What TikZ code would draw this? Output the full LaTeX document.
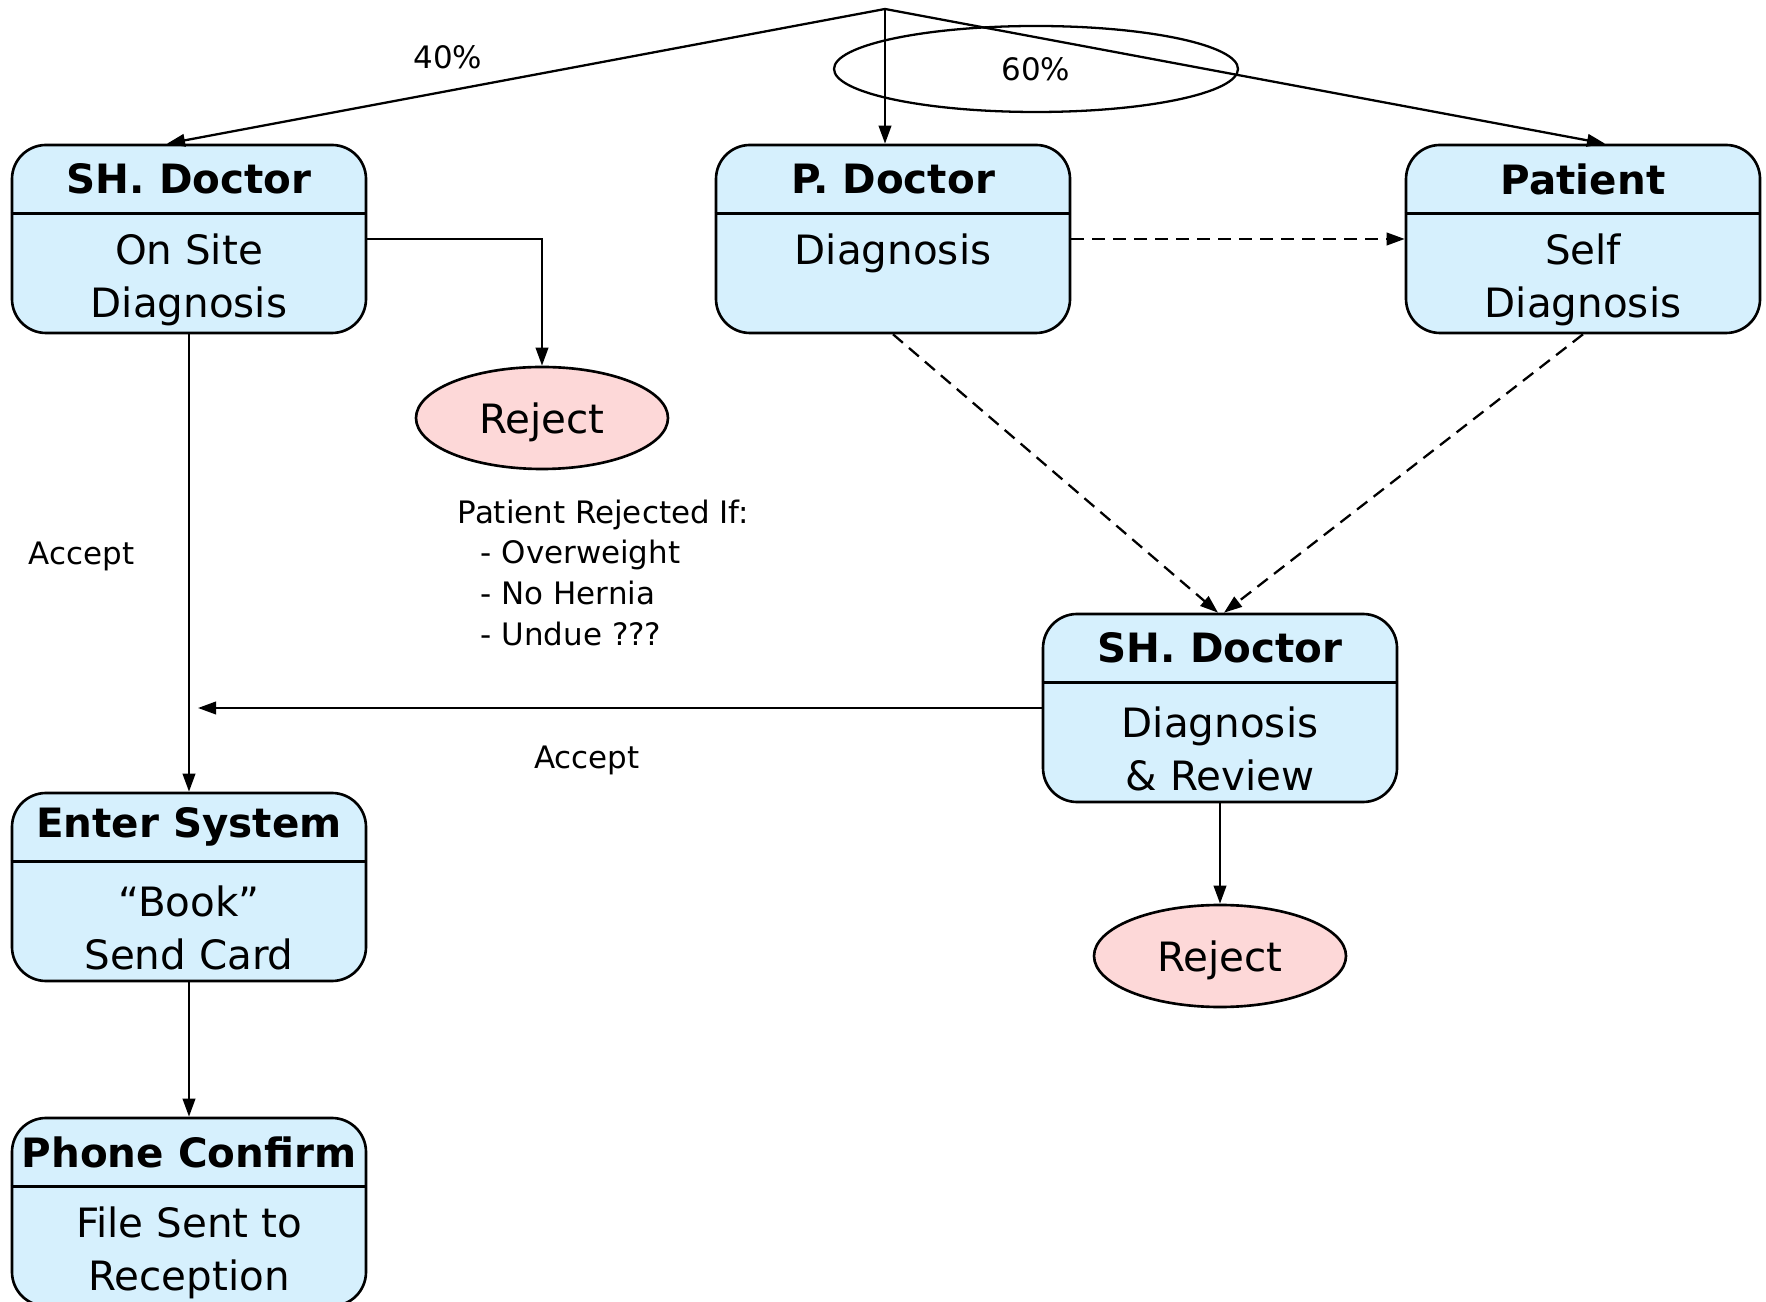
\documentclass[tikz,border=0pt]{standalone}
\usepackage{fontspec}
\setmainfont{DejaVu Sans}
\usetikzlibrary{arrows.meta,shapes.geometric,positioning}
\definecolor{boxblue}{RGB}{214,240,253}
\definecolor{rejpink}{RGB}{253,216,216}

\begin{document}
\begin{tikzpicture}[x=0.1mm, y=-0.1mm,
    >={Triangle[length=1.8mm,width=1.25mm]},
    statebox/.style={draw, line width=0.75pt, fill=boxblue, rounded corners=3.4mm,
        minimum width=35.4mm, minimum height=18.8mm},
    headtxt/.style={font=\fontsize{11.5}{15}\selectfont\bfseries, inner sep=0pt},
    bodytxt/.style={font=\fontsize{11.5}{15}\selectfont, align=center, inner sep=0pt},
    rejnode/.style={draw, line width=0.75pt, ellipse, fill=rejpink, minimum width=25.2mm,
        minimum height=10.2mm, inner sep=0pt, text depth=0pt, font=\fontsize{11.5}{15}\selectfont},
    smalltxt/.style={font=\fontsize{8.8}{11.6}\selectfont, inner sep=0pt},
    divider/.style={line width=0.75pt},
    flow/.style={->, line width=0.65pt},
    dflow/.style={->, line width=0.65pt, dash pattern=on 1.3mm off 0.8mm}]
    \useasboundingbox (0, 0) rectangle (1766, 1302);

    % split point and share
    \coordinate (split) at (885, 9);
    \node[draw, ellipse, line width=0.65pt, minimum width=40.4mm, minimum height=8.6mm,
        smalltxt] (share) at (1036, 69) {60\%};
    \node[smalltxt] (low) at (448, 57) {40\%};

    % SH. Doctor, on site
    \node[statebox] (sh1) at (189, 239) {};
    \node[headtxt, yshift=6mm] (sh1h) at (sh1) {SH. Doctor};
    \draw[divider] ([yshift=-7mm]sh1.north west) -- ([yshift=-7mm]sh1.north east);
    \node[bodytxt, yshift=-4.1mm] (sh1b) at (sh1) {On Site\\Diagnosis};

    % P. Doctor
    \node[statebox] (pdoc) at (893, 239) {};
    \node[headtxt, yshift=6mm] (pdoch) at (pdoc) {P. Doctor};
    \draw[divider] ([yshift=-7mm]pdoc.north west) -- ([yshift=-7mm]pdoc.north east);
    \node[bodytxt, yshift=-1.4mm] (pdocb) at (pdoc) {Diagnosis};

    % Patient
    \node[statebox] (patient) at (1583, 239) {};
    \node[headtxt, yshift=6mm] (patienth) at (patient) {Patient};
    \draw[divider] ([yshift=-7mm]patient.north west) -- ([yshift=-7mm]patient.north east);
    \node[bodytxt, yshift=-4.1mm] (patientb) at (patient) {Self\\Diagnosis};

    % SH. Doctor, review
    \node[statebox] (sh2) at (1220, 708) {};
    \node[headtxt, yshift=6mm] (sh2h) at (sh2) {SH. Doctor};
    \draw[divider] ([yshift=-7mm]sh2.north west) -- ([yshift=-7mm]sh2.north east);
    \node[bodytxt, yshift=-4.1mm] (sh2b) at (sh2) {Diagnosis\\\& Review};

    % Enter System
    \node[statebox] (enter) at (189, 887) {};
    \node[headtxt, yshift=6mm] (enterh) at (enter) {Enter System};
    \draw[divider] ([yshift=-7mm]enter.north west) -- ([yshift=-7mm]enter.north east);
    \node[bodytxt, yshift=-4.1mm] (enterb) at (enter) {``Book''\\Send Card};

    % Phone Confirm
    \node[statebox] (phone) at (189, 1212) {};
    \node[headtxt, yshift=6mm] (phoneh) at (phone) {Phone Confirm};
    \draw[divider] ([yshift=-7mm]phone.north west) -- ([yshift=-7mm]phone.north east);
    \node[bodytxt, yshift=-4.1mm] (phoneb) at (phone) {File Sent to\\Reception};

    % rejects
    \node[rejnode] (rej1) at (542, 418) {Reject};
    \node[rejnode] (rej2) at (1220, 956) {Reject};

    % labels
    \node[smalltxt, anchor=west] (acc1) at (28, 556) {Accept};
    \node[smalltxt] (acc2) at (587, 760) {Accept};
    \node[smalltxt, anchor=north west, align=left] (rules) at (457, 499)
        {Patient Rejected If:\\\hspace{2.3mm}- Overweight\\\hspace{2.3mm}- No Hernia\\\hspace{2.3mm}- Undue ???};
    \coordinate (merge) at (198, 708);

    % connectors
    \draw[flow] (split) -- ([xshift=-2.2mm]sh1.north);
    \draw[flow] (split) -- (split |- pdoc.north);
    \draw[flow] (split) -- ([xshift=2.2mm]patient.north);
    \draw[flow] (sh1.east) -| (rej1.north);
    \draw[dflow] (pdoc.east) -- (patient.west);
    \draw[dflow] (pdoc.south) -- ([xshift=-0.2mm]sh2.north);
    \draw[dflow] (patient.south) -- ([xshift=0.4mm]sh2.north);
    \draw[flow] (sh2.west) -- (merge);
    \draw[flow] (sh1.south) -- (enter.north);
    \draw[flow] (enter.south) -- (phone.north);
    \draw[flow] (sh2.south) -- (rej2.north);
\end{tikzpicture}
\end{document}
